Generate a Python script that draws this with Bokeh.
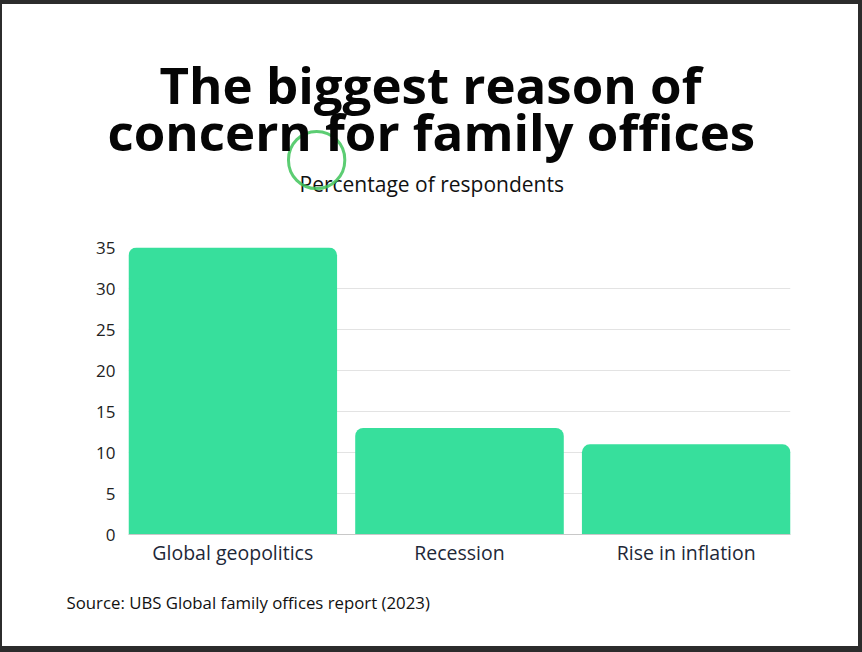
from bokeh.plotting import figure
from bokeh.models import Range1d, FixedTicker, ColumnDataSource, Title
from bokeh.layouts import column
from bokeh.embed import file_html
from bokeh.resources import INLINE

# Survey results: share of family offices naming each concern
categories = ["Global geopolitics", "Recession", "Rise in inflation"]
respondents_pct = [35, 13, 11]
y_ticks = [0, 5, 10, 15, 20, 25, 30, 35]

FONT = "Open Sans"
BAR_COLOR = "#37df9c"

xs = list(range(len(categories)))
src = ColumnDataSource(dict(x=xs, top=respondents_pct, name=categories))

p = figure(
    width=856, height=642, title=None,
    x_range=Range1d(-0.46, len(categories) - 1 + 0.46),
    y_range=Range1d(0, max(y_ticks)),
    output_backend="svg", toolbar_location=None,
    min_border_left=126, min_border_right=68,
    min_border_top=243, min_border_bottom=112,
    background_fill_color="white", border_fill_color="white",
    outline_line_color=None,
)
p.margin = (4, 4, 6, 2)
p.styles = {"background-color": "white"}

p.vbar(x="x", top="top", width=0.92, bottom=0, source=src,
       fill_color=BAR_COLOR, line_color=None, border_radius=(8, 8, 0, 0))

# axes
p.xaxis.ticker = FixedTicker(ticks=xs)
p.xaxis.major_label_overrides = {i: c for i, c in enumerate(categories)}
p.xaxis.axis_line_color = "#c8c8c8"
p.xaxis.major_tick_line_color = None
p.xaxis.minor_tick_line_color = None
p.xaxis.major_tick_out = 0
p.xaxis.major_label_standoff = 4
p.xaxis.major_label_text_font = FONT
p.xaxis.major_label_text_font_size = "19.5px"
p.xaxis.major_label_text_color = "#1e2838"

p.yaxis.ticker = FixedTicker(ticks=y_ticks)
p.yaxis.axis_line_color = None
p.yaxis.major_tick_line_color = None
p.yaxis.minor_tick_line_color = None
p.yaxis.major_tick_out = 0
p.yaxis.major_label_standoff = 13
p.yaxis.major_label_text_font = FONT
p.yaxis.major_label_text_font_size = "17px"
p.yaxis.major_label_text_color = "#222222"

p.xgrid.grid_line_color = None
p.ygrid.grid_line_color = "#e3e3e3"
p.ygrid.ticker = FixedTicker(ticks=y_ticks)


def spacer(gap):
    return Title(text=" ", text_font_size="1px", standoff=gap)


def heading(text, size, offset, standoff=0, bold=False, color="#111111"):
    return Title(text=text, align="left", offset=offset, standoff=standoff,
                 vertical_align="bottom", text_font=FONT, text_font_size=size,
                 text_font_style="bold" if bold else "normal", text_color=color)


def click_ring(offset, gap):
    # a round outline marker sitting in the gap under the main heading;
    # the negative standoff cancels the padding so the panel stays thin
    try:
        return Title(text=" ", text_font_size="1px", standoff=gap, align="left",
                     offset=offset, vertical_align="middle", padding=28,
                     border_radius=29, border_line_color="#3fc45a",
                     border_line_width=3, border_line_alpha=0.85,
                     background_fill_color=None)
    except AttributeError:
        return spacer(12)


# headings stack upward from the plot frame
p.add_layout(spacer(47), "above")
p.add_layout(heading("Percentage of respondents", "21px", 171), "above")
p.add_layout(click_ring(160, -44), "above")
p.add_layout(heading("concern for family offices", "51px", -21, standoff=-26,
                     bold=True, color="#050505"), "above")
p.add_layout(heading("The biggest reason of", "51px", 31, standoff=-24,
                     bold=True, color="#050505"), "above")

# source note below the category labels
p.add_layout(heading("Source: UBS Global family offices report (2023)", "16.8px", -62,
                     standoff=40), "below")

layout = column(p, styles={"background-color": "#2c2c2c"}, width=862, height=652)

open("out.html", "w").write(file_html(layout, INLINE))
